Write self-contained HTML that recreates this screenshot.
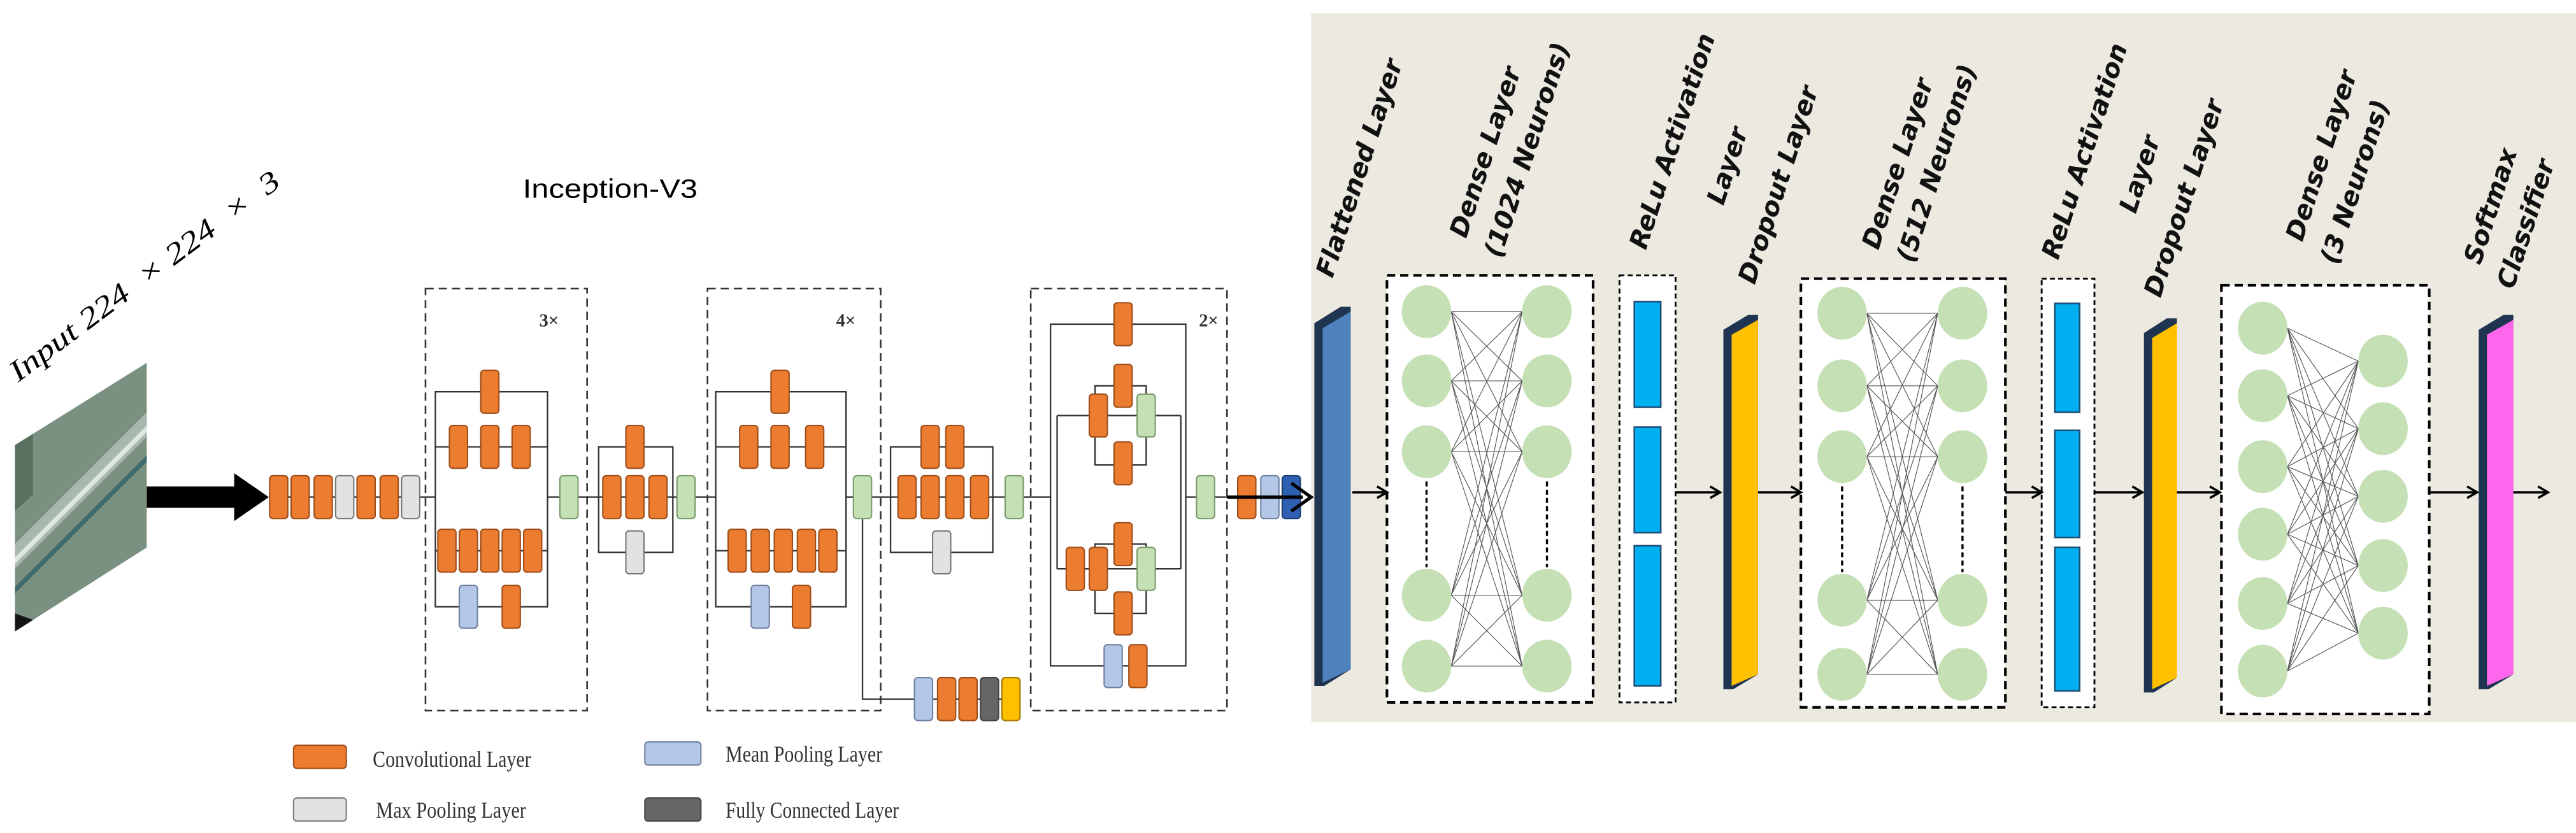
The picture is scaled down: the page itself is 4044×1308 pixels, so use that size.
<!DOCTYPE html>
<html><head><meta charset="utf-8"><style>html,body{margin:0;padding:0;background:#fff}svg{display:block}</style></head>
<body>
<svg xmlns="http://www.w3.org/2000/svg" xmlns:xlink="http://www.w3.org/1999/xlink" width="4044" height="1308" viewBox="0 0 1562 505.2">
<defs>
<rect id="o" x="-5.5" y="-13" width="11" height="26" rx="2" fill="#ec7c30" stroke="#9c4c18" stroke-width="0.8"/>
<rect id="g" x="-5.5" y="-13" width="11" height="26" rx="2" fill="#c5e0b4" stroke="#7a9a6a" stroke-width="0.8"/>
<rect id="m" x="-5.5" y="-13" width="11" height="26" rx="2" fill="#e2e2e2" stroke="#777" stroke-width="0.8"/>
<rect id="b" x="-5.5" y="-13" width="11" height="26" rx="2" fill="#b4c7e7" stroke="#6f7f9f" stroke-width="0.8"/>
<rect id="d" x="-5.5" y="-13" width="11" height="26" rx="2" fill="#666" stroke="#444" stroke-width="0.8"/>
<rect id="y" x="-5.5" y="-13" width="11" height="26" rx="2" fill="#ffc000" stroke="#a07800" stroke-width="0.8"/>
<rect id="k" x="-5.5" y="-13" width="11" height="26" rx="2" fill="#2f5fb0" stroke="#1d3c70" stroke-width="0.8"/>
<ellipse id="c" rx="15" ry="16" fill="#c5e0b4"/>
<clipPath id="imgclip"><polygon points="9,270 89,220 89,332 9,383"/></clipPath>
</defs>

<rect x="795" y="8" width="767" height="430" fill="#ece9e0"/>

<g clip-path="url(#imgclip)">
<rect x="0" y="210" width="100" height="180" fill="#7a9080"/>
<polygon points="9,330 89,250 89,265 9,345" fill="#a9b8ad"/>
<polygon points="9,338 89,258 89,262 9,342" fill="#dfe6e0"/>
<polygon points="9,356 89,276 89,280 9,360" fill="#3f6a70"/>
<polygon points="9,372 40,383 9,383" fill="#151515"/>
<polygon points="9,270 20,263 20,300 9,310" fill="#5a7060"/>
</g>
<text transform="translate(11,232) rotate(-36.8)" font-family="Liberation Serif, serif" font-style="italic" font-size="18" textLength="200" lengthAdjust="spacingAndGlyphs">Input 224 &#160;× 224 &#160;× &#160;3</text>

<text x="317" y="120" font-family="Liberation Sans Narrow, Liberation Sans, sans-serif" font-size="16" textLength="106" lengthAdjust="spacingAndGlyphs">Inception-V3</text>

<rect x="89" y="295" width="55" height="13" fill="#000"/>
<polygon points="142,287 163,301.5 142,316" fill="#000"/>

<g stroke="#333" stroke-width="0.9" fill="none">
<line x1="163" y1="301.5" x2="264" y2="301.5"/>
<line x1="332" y1="301.5" x2="434" y2="301.5"/>
<line x1="513" y1="301.5" x2="637" y2="301.5"/>
<line x1="719" y1="301.5" x2="750" y2="301.5"/>
</g>

<use href="#o" x="169" y="301.5"/><use href="#o" x="182" y="301.5"/><use href="#o" x="196" y="301.5"/><use href="#m" x="209" y="301.5"/><use href="#o" x="222" y="301.5"/><use href="#o" x="236" y="301.5"/><use href="#m" x="249" y="301.5"/>

<g fill="none" stroke="#333" stroke-width="1" stroke-dasharray="5,3">
<rect x="258" y="175" width="98" height="256"/>
<rect x="429" y="175" width="105" height="256"/>
<rect x="625" y="175" width="119" height="256"/>
</g>
<g font-family="Liberation Serif, serif" font-weight="bold" font-size="11" fill="#333">
<text x="327" y="198">3×</text><text x="507" y="198">4×</text><text x="727" y="198">2×</text>
</g>

<g fill="none" stroke="#333" stroke-width="0.9">
<rect x="264" y="237.6" width="68" height="130.4"/>
<line x1="264" y1="271" x2="332" y2="271"/><line x1="264" y1="334" x2="332" y2="334"/>
<rect x="363" y="271" width="45" height="64"/>
<rect x="434" y="237.6" width="79" height="130.4"/>
<line x1="434" y1="271" x2="513" y2="271"/><line x1="434" y1="334" x2="513" y2="334"/>
<rect x="540" y="271" width="62" height="64"/>
<rect x="637" y="196.6" width="82" height="207.2"/>
<line x1="641" y1="252" x2="716" y2="252"/><line x1="641" y1="345" x2="716" y2="345"/>
<line x1="641" y1="252" x2="641" y2="345"/><line x1="716" y1="252" x2="716" y2="345"/>
<rect x="664" y="234" width="31" height="48"/>
<rect x="664" y="330" width="31" height="42"/>
<polyline points="523,301.5 523,424 560,424"/>
<line x1="560" y1="424" x2="613" y2="424"/>
</g>
<use href="#o" x="297" y="237.6"/>
<use href="#o" x="278" y="271"/><use href="#o" x="297" y="271"/><use href="#o" x="316" y="271"/>
<use href="#o" x="271" y="334"/><use href="#o" x="284" y="334"/><use href="#o" x="297" y="334"/><use href="#o" x="310" y="334"/><use href="#o" x="323" y="334"/>
<use href="#b" x="284" y="368"/><use href="#o" x="310" y="368"/>
<use href="#g" x="345" y="301.5"/>
<use href="#o" x="385" y="271"/>
<use href="#o" x="371" y="301.5"/><use href="#o" x="385" y="301.5"/><use href="#o" x="399" y="301.5"/>
<use href="#m" x="385" y="335"/>
<use href="#g" x="416" y="301.5"/>
<use href="#o" x="473" y="237.6"/>
<use href="#o" x="454" y="271"/><use href="#o" x="473" y="271"/><use href="#o" x="494" y="271"/>
<use href="#o" x="447" y="334"/><use href="#o" x="461" y="334"/><use href="#o" x="475" y="334"/><use href="#o" x="489" y="334"/><use href="#o" x="502" y="334"/>
<use href="#b" x="461" y="368"/><use href="#o" x="486" y="368"/>
<use href="#g" x="523" y="301.5"/>
<use href="#b" x="560" y="424"/><use href="#o" x="574" y="424"/><use href="#o" x="587" y="424"/><use href="#d" x="600" y="424"/><use href="#y" x="613" y="424"/>
<use href="#o" x="564" y="271"/><use href="#o" x="579" y="271"/>
<use href="#o" x="550" y="301.5"/><use href="#o" x="564" y="301.5"/><use href="#o" x="579" y="301.5"/><use href="#o" x="594" y="301.5"/>
<use href="#m" x="571" y="335"/>
<use href="#g" x="615" y="301.5"/>
<use href="#o" x="681" y="196.6"/>
<use href="#o" x="681" y="234"/><use href="#o" x="666" y="252"/><use href="#g" x="695" y="252"/><use href="#o" x="681" y="281"/>
<use href="#o" x="681" y="330"/><use href="#o" x="652" y="345"/><use href="#o" x="666" y="345"/><use href="#g" x="695" y="345"/><use href="#o" x="681" y="372"/>
<use href="#b" x="675" y="404"/><use href="#o" x="690" y="404"/>
<use href="#g" x="731" y="301.5"/>
<use href="#o" x="756" y="301.5"/><use href="#b" x="770" y="301.5"/><use href="#k" x="783" y="301.5"/>
<line x1="744" y1="301.5" x2="790" y2="301.5" stroke="#000" stroke-width="2"/>
<polyline points="783,293 795,301.5 783,310" fill="none" stroke="#000" stroke-width="2"/>

<g stroke-width="0.8">
<rect x="178" y="452" width="32" height="14" rx="2" fill="#ec7c30" stroke="#9c4c18"/>
<rect x="391" y="450" width="34" height="14" rx="2" fill="#b4c7e7" stroke="#6f7f9f"/>
<rect x="178" y="484" width="32" height="14" rx="2" fill="#e2e2e2" stroke="#777"/>
<rect x="391" y="484" width="34" height="14" rx="2" fill="#666" stroke="#444"/>
</g>
<g font-family="Liberation Serif, serif" font-size="14" fill="#333">
<text x="226" y="465" textLength="96" lengthAdjust="spacingAndGlyphs">Convolutional Layer</text>
<text x="440" y="462" textLength="95" lengthAdjust="spacingAndGlyphs">Mean Pooling Layer</text>
<text x="228" y="496" textLength="91" lengthAdjust="spacingAndGlyphs">Max Pooling Layer</text>
<text x="440" y="496" textLength="105" lengthAdjust="spacingAndGlyphs">Fully Connected Layer</text>
</g>

<g>
<polygon points="797,196 813,186 819,186 819,406 803,416 797,416" fill="#1f3450"/>
<polygon points="802,199 819,189 819,406 802,414" fill="#4f81bd"/>
<polygon points="1045,200 1060,191 1066,191 1066,409 1051,418 1045,418" fill="#1f3450"/>
<polygon points="1050,203 1066,194 1066,409 1050,416" fill="#ffc000"/>
<polygon points="1300,202 1314,193 1320,193 1320,411 1306,420 1300,420" fill="#1f3450"/>
<polygon points="1305,205 1320,196 1320,411 1305,418" fill="#ffc000"/>
<polygon points="1503,200 1518,191 1524,191 1524,409 1509,418 1503,418" fill="#1f3450"/>
<polygon points="1508,203 1524,194 1524,409 1508,416" fill="#ff66ee"/>
</g>

<g fill="#fff" stroke="#000" stroke-width="1.6" stroke-dasharray="5,3">
<rect x="841" y="167" width="125" height="259"/>
<rect x="982" y="167" width="34" height="259" stroke-width="1.1" stroke-dasharray="3,2"/>
<rect x="1092" y="169" width="124" height="260"/>
<rect x="1238" y="169" width="32" height="260" stroke-width="1.1" stroke-dasharray="3,2"/>
<rect x="1347" y="173" width="126" height="260"/>
</g>
<g fill="#00b0f0" stroke="#1f4e79" stroke-width="1">
<rect x="991" y="183" width="16" height="64"/><rect x="991" y="259" width="16" height="64"/><rect x="991" y="331" width="16" height="85"/>
<rect x="1246" y="184" width="15" height="66"/><rect x="1246" y="261" width="15" height="65"/><rect x="1246" y="332" width="15" height="87"/>
</g>

<g stroke="#555" stroke-width="0.45" fill="none">
<path d="M880 189L923 189M880 189L923 231M880 189L923 274M880 189L923 361M880 189L923 404M880 231L923 189M880 231L923 231M880 231L923 274M880 231L923 361M880 231L923 404M880 274L923 189M880 274L923 231M880 274L923 274M880 274L923 361M880 274L923 404M880 361L923 189M880 361L923 231M880 361L923 274M880 361L923 361M880 361L923 404M880 404L923 189M880 404L923 231M880 404L923 274M880 404L923 361M880 404L923 404"/>
<path d="M1132 190L1175 190M1132 190L1175 234M1132 190L1175 277M1132 190L1175 364M1132 190L1175 409M1132 234L1175 190M1132 234L1175 234M1132 234L1175 277M1132 234L1175 364M1132 234L1175 409M1132 277L1175 190M1132 277L1175 234M1132 277L1175 277M1132 277L1175 364M1132 277L1175 409M1132 364L1175 190M1132 364L1175 234M1132 364L1175 277M1132 364L1175 364M1132 364L1175 409M1132 409L1175 190M1132 409L1175 234M1132 409L1175 277M1132 409L1175 364M1132 409L1175 409"/>
<path d="M1387 199L1430 219M1387 199L1430 260M1387 199L1430 301M1387 199L1430 343M1387 199L1430 384M1387 240L1430 219M1387 240L1430 260M1387 240L1430 301M1387 240L1430 343M1387 240L1430 384M1387 283L1430 219M1387 283L1430 260M1387 283L1430 301M1387 283L1430 343M1387 283L1430 384M1387 324L1430 219M1387 324L1430 260M1387 324L1430 301M1387 324L1430 343M1387 324L1430 384M1387 366L1430 219M1387 366L1430 260M1387 366L1430 301M1387 366L1430 343M1387 366L1430 384M1387 407L1430 219M1387 407L1430 260M1387 407L1430 301M1387 407L1430 343M1387 407L1430 384"/>
</g>
<g stroke="#000" stroke-width="1.3" stroke-dasharray="3,2">
<line x1="865" y1="292" x2="865" y2="344"/><line x1="938" y1="292" x2="938" y2="344"/>
<line x1="1117" y1="295" x2="1117" y2="347"/><line x1="1190" y1="295" x2="1190" y2="347"/>
</g>
<g>
<use href="#c" x="865" y="189"/><use href="#c" x="865" y="231"/><use href="#c" x="865" y="274"/><use href="#c" x="865" y="361"/><use href="#c" x="865" y="404"/>
<use href="#c" x="938" y="189"/><use href="#c" x="938" y="231"/><use href="#c" x="938" y="274"/><use href="#c" x="938" y="361"/><use href="#c" x="938" y="404"/>
<use href="#c" x="1117" y="190"/><use href="#c" x="1117" y="234"/><use href="#c" x="1117" y="277"/><use href="#c" x="1117" y="364"/><use href="#c" x="1117" y="409"/>
<use href="#c" x="1190" y="190"/><use href="#c" x="1190" y="234"/><use href="#c" x="1190" y="277"/><use href="#c" x="1190" y="364"/><use href="#c" x="1190" y="409"/>
<use href="#c" x="1372" y="199"/><use href="#c" x="1372" y="240"/><use href="#c" x="1372" y="283"/><use href="#c" x="1372" y="324"/><use href="#c" x="1372" y="366"/><use href="#c" x="1372" y="407"/>
<use href="#c" x="1445" y="219"/><use href="#c" x="1445" y="260"/><use href="#c" x="1445" y="301"/><use href="#c" x="1445" y="343"/><use href="#c" x="1445" y="384"/>
</g>

<g stroke="#000" stroke-width="1.4" fill="none">
<path d="M820 298.6H840M835 295L841 298.6L835 302"/>
<path d="M1016 298.6H1042M1037 295L1043 298.6L1037 302"/>
<path d="M1066 298.6H1091M1086 295L1092 298.6L1086 302"/>
<path d="M1216 298.6H1237M1232 295L1238 298.6L1232 302"/>
<path d="M1270 298.6H1298M1293 295L1299 298.6L1293 302"/>
<path d="M1320 298.6H1345M1340 295L1346 298.6L1340 302"/>
<path d="M1473 298.6H1501M1496 295L1502 298.6L1496 302"/>
<path d="M1524 298.6H1544M1539 295L1545 298.6L1539 302"/>
</g>

<g font-family="DejaVu Sans, Liberation Sans, sans-serif" font-weight="bold" font-style="italic" font-size="15.5" fill="#111">
<text transform="translate(808,169) rotate(-72)">Flattened Layer</text>
<text transform="translate(889,145) rotate(-72)">Dense  Layer</text>
<text transform="translate(910,157) rotate(-72)">(1024 Neurons)</text>
<text transform="translate(998,152) rotate(-72)">ReLu Activation</text>
<text transform="translate(1045,125) rotate(-72)">Layer</text>
<text transform="translate(1064,173) rotate(-72)">Dropout  Layer</text>
<text transform="translate(1139,152) rotate(-72)">Dense  Layer</text>
<text transform="translate(1160,160) rotate(-72)">(512 Neurons)</text>
<text transform="translate(1248,158) rotate(-72)">ReLu Activation</text>
<text transform="translate(1295,130) rotate(-72)">Layer</text>
<text transform="translate(1310,181) rotate(-72)">Dropout  Layer</text>
<text transform="translate(1396,147) rotate(-72)">Dense  Layer</text>
<text transform="translate(1417,161) rotate(-72)">(3 Neurons)</text>
<text transform="translate(1504,161) rotate(-72)">Softmax</text>
<text transform="translate(1524,176) rotate(-72)">Classifier</text>
</g>
</svg>
</body></html>
